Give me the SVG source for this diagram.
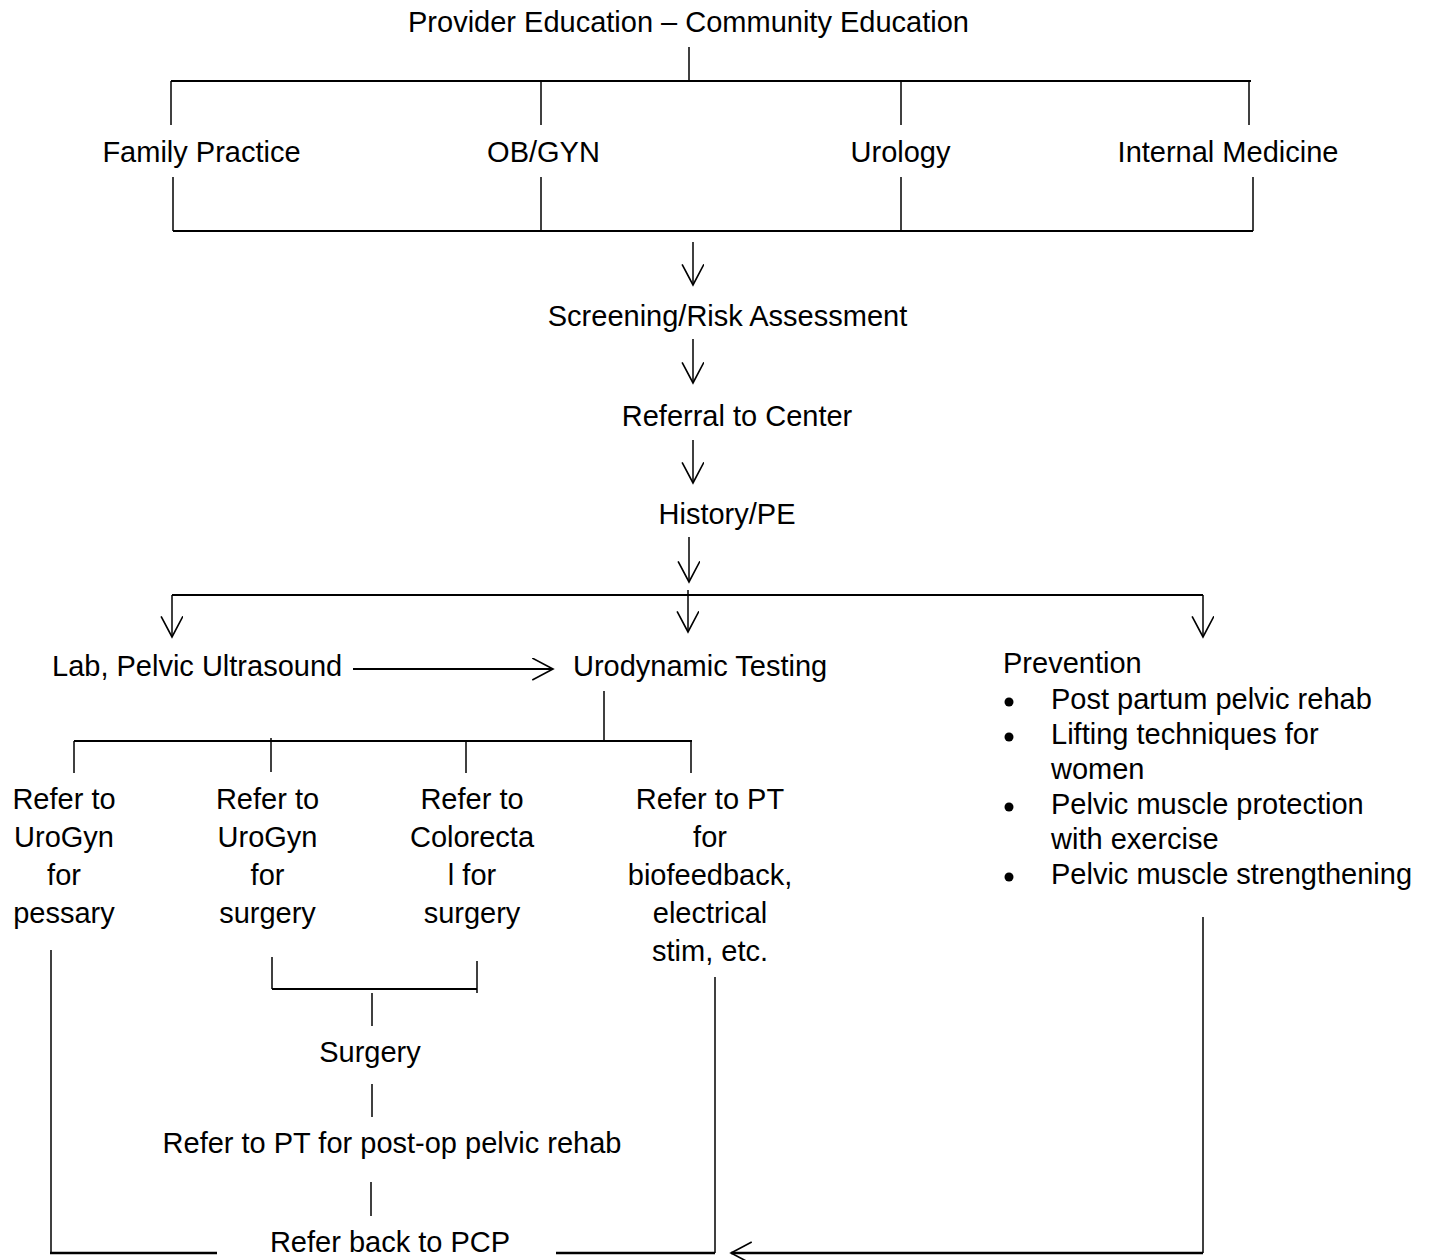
<svg xmlns="http://www.w3.org/2000/svg" width="1433" height="1260" viewBox="0 0 1433 1260">
<defs>
<style>
text{font-family:"Liberation Sans",Arial,sans-serif;font-size:29px;fill:#000}
.c{text-anchor:middle}
.ln{stroke:#000;stroke-width:1.5;fill:none}
.h{stroke:#000;stroke-width:2;fill:none}
.hb{stroke:#000;stroke-width:2.5;fill:none}
</style>
<marker id="arr" markerUnits="userSpaceOnUse" markerWidth="24" markerHeight="24" viewBox="0 0 22 22" refX="20" refY="10" orient="auto">
<path d="M1,0 L20,10 L1,20" fill="none" stroke="#000" stroke-width="1.5"/>
</marker>
</defs>
<rect width="1433" height="1260" fill="#fff"/>
<g id="connectors">
<line class="ln" x1="689" y1="47" x2="689" y2="81"/>
<line class="h" x1="171" y1="81" x2="1251" y2="81"/>
<line class="ln" x1="171" y1="81" x2="171" y2="125"/>
<line class="ln" x1="541" y1="81" x2="541" y2="125"/>
<line class="ln" x1="901" y1="81" x2="901" y2="125"/>
<line class="ln" x1="1249" y1="81" x2="1249" y2="125"/>
<line class="ln" x1="173" y1="177" x2="173" y2="231"/>
<line class="ln" x1="541" y1="177" x2="541" y2="231"/>
<line class="ln" x1="901" y1="177" x2="901" y2="231"/>
<line class="ln" x1="1253" y1="177" x2="1253" y2="231"/>
<line class="h" x1="173" y1="231" x2="1253" y2="231"/>
<line class="ln" x1="693" y1="242" x2="693" y2="285" marker-end="url(#arr)"/>
<line class="ln" x1="693" y1="339" x2="693" y2="383" marker-end="url(#arr)"/>
<line class="ln" x1="693" y1="440" x2="693" y2="483" marker-end="url(#arr)"/>
<line class="ln" x1="689" y1="537" x2="689" y2="582" marker-end="url(#arr)"/>
<line class="h" x1="172" y1="595" x2="1203" y2="595"/>
<line class="ln" x1="172" y1="595" x2="172" y2="637" marker-end="url(#arr)"/>
<line class="ln" x1="688" y1="590" x2="688" y2="632" marker-end="url(#arr)"/>
<line class="ln" x1="1203" y1="595" x2="1203" y2="637" marker-end="url(#arr)"/>
<line class="h" x1="353" y1="669" x2="553" y2="669" marker-end="url(#arr)"/>
<line class="ln" x1="604" y1="691" x2="604" y2="741"/>
<line class="h" x1="74" y1="741" x2="692" y2="741"/>
<line class="ln" x1="74" y1="741" x2="74" y2="773"/>
<line class="ln" x1="271" y1="738" x2="271" y2="772"/>
<line class="ln" x1="466" y1="741" x2="466" y2="773"/>
<line class="ln" x1="691" y1="741" x2="691" y2="773"/>
<line class="ln" x1="272" y1="957" x2="272" y2="989"/>
<line class="ln" x1="477" y1="961" x2="477" y2="993"/>
<line class="h" x1="272" y1="989" x2="477" y2="989"/>
<line class="ln" x1="372" y1="993" x2="372" y2="1026"/>
<line class="ln" x1="372" y1="1084" x2="372" y2="1117"/>
<line class="ln" x1="371" y1="1182" x2="371" y2="1216"/>
<line class="ln" x1="51" y1="950" x2="51" y2="1253"/>
<line class="hb" x1="50" y1="1253" x2="217" y2="1253"/>
<line class="hb" x1="556" y1="1253" x2="715" y2="1253"/>
<line class="ln" x1="715" y1="977" x2="715" y2="1253"/>
<line class="ln" x1="1203" y1="917" x2="1203" y2="1253"/>
<line class="hb" x1="1203" y1="1253" x2="731" y2="1253" marker-end="url(#arr)"/>
</g>
<g id="n-top"><text class="c" x="688.5" y="32">Provider Education – Community Education</text></g>
<g id="n-family"><text class="c" x="201.5" y="162">Family Practice</text></g>
<g id="n-obgyn"><text class="c" x="543.5" y="162">OB/GYN</text></g>
<g id="n-urology"><text class="c" x="900.5" y="162">Urology</text></g>
<g id="n-internal"><text class="c" x="1228" y="162">Internal Medicine</text></g>
<g id="n-screening"><text class="c" x="727.5" y="326">Screening/Risk Assessment</text></g>
<g id="n-referral"><text class="c" x="737" y="426">Referral to Center</text></g>
<g id="n-history"><text class="c" x="727" y="524">History/PE</text></g>
<g id="n-lab"><text x="52" y="676">Lab, Pelvic Ultrasound</text></g>
<g id="n-urodynamic"><text x="573" y="676">Urodynamic Testing</text></g>
<g id="n-prevention">
<text x="1003" y="673">Prevention</text>
<circle cx="1009" cy="702" r="4.5"/>
<text x="1051" y="709">Post partum pelvic rehab</text>
<circle cx="1009" cy="737" r="4.5"/>
<text x="1051" y="744">Lifting techniques for</text>
<text x="1051" y="779">women</text>
<circle cx="1009" cy="807" r="4.5"/>
<text x="1051" y="814">Pelvic muscle protection</text>
<text x="1051" y="849">with exercise</text>
<circle cx="1009" cy="877" r="4.5"/>
<text x="1051" y="884">Pelvic muscle strengthening</text>
</g>
<g id="n-pessary" class="c">
<text class="c" x="64" y="809">Refer to</text>
<text class="c" x="64" y="847">UroGyn</text>
<text class="c" x="64" y="885">for</text>
<text class="c" x="64" y="923">pessary</text>
</g>
<g id="n-urogyn-surgery">
<text class="c" x="267.5" y="809">Refer to</text>
<text class="c" x="267.5" y="847">UroGyn</text>
<text class="c" x="267.5" y="885">for</text>
<text class="c" x="267.5" y="923">surgery</text>
</g>
<g id="n-colorectal">
<text class="c" x="472" y="809">Refer to</text>
<text class="c" x="472" y="847">Colorecta</text>
<text class="c" x="472" y="885">l for</text>
<text class="c" x="472" y="923">surgery</text>
</g>
<g id="n-pt">
<text class="c" x="710" y="809">Refer to PT</text>
<text class="c" x="710" y="847">for</text>
<text class="c" x="710" y="885">biofeedback,</text>
<text class="c" x="710" y="923">electrical</text>
<text class="c" x="710" y="961">stim, etc.</text>
</g>
<g id="n-surgery"><text class="c" x="370" y="1062">Surgery</text></g>
<g id="n-postop"><text class="c" x="392" y="1153">Refer to PT for post-op pelvic rehab</text></g>
<g id="n-pcp"><text class="c" x="390" y="1252">Refer back to PCP</text></g>
</svg>
